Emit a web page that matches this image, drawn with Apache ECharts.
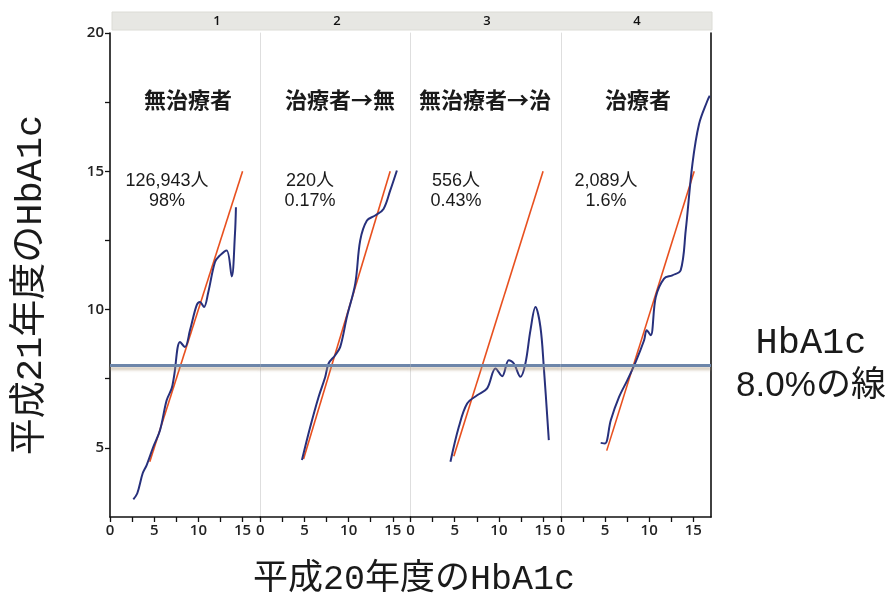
<!DOCTYPE html>
<html>
<head>
<meta charset="utf-8">
<script src="https://cdn.jsdelivr.net/npm/echarts@6/dist/echarts.min.js"></script>
<style>
  html, body { margin: 0; padding: 0; background: #ffffff; }
  #chart { width: 892px; height: 599px; }
</style>
</head>
<body>
<div id="chart"></div>
<script>
// ---- data ----
const panelNumbers = ['1', '2', '3', '4'];
const panelTitles = ['無治療者', '治療者→無', '無治療者→治', '治療者'];
const headcounts = ['126,943人', '220人', '556人', '2,089人'];
const shares = ['98%', '0.17%', '0.43%', '1.6%'];
const xTitle = '平成20年度のHbA1c';
const yTitle = '平成21年度のHbA1c';
const refLabelTop = 'HbA1c';
const refLabelBottom = '8.0%の線';
const threshold = 8.0;            // HbA1c 8.0% reference line
const xRange = [0, 17];
const yRange = [2.5, 20];
const tickStep = 2.5;
const labelStep = 5;

// observed curve per group: [HbA1c year 20, HbA1c year 21]
const curveUntreated = [
  [2.64, 3.14], [3.09, 3.36], [3.7, 4.08], [4.15, 4.38], [4.9, 5.04], [5.66, 5.64],
  [6.41, 6.72], [6.98, 7.15], [7.24, 7.57], [7.92, 8.83], [8.48, 8.65], [9.05, 9.25],
  [9.8, 10.15], [10.18, 10.27], [10.63, 10.09], [11.12, 10.63], [11.88, 11.72],
  [12.44, 11.96], [13.2, 12.14], [13.77, 11.2], [14.14, 12.74], [14.25, 13.7]
];
const curveStopped = [
  [4.72, 4.56], [5.66, 5.76], [6.6, 6.84], [7.35, 7.56], [7.73, 8.05], [8.48, 8.35],
  [9.05, 8.65], [9.8, 9.73], [10.75, 10.94], [11.31, 12.5], [12.07, 13.22],
  [13.0, 13.4], [13.95, 13.64], [14.7, 14.3], [15.46, 15.03]
];
const curveStarted = [
  [4.52, 4.5], [5.47, 5.76], [6.41, 6.6], [7.54, 6.9], [8.67, 7.15], [9.62, 7.87],
  [10.37, 7.59], [11.12, 8.17], [11.69, 8.05], [12.44, 7.57], [13.0, 8.05],
  [13.57, 9.25], [14.14, 10.09], [14.7, 9.37], [15.08, 7.93], [15.65, 5.28]
];
const curveTreated = [
  [4.52, 5.18], [5.01, 5.16], [5.66, 6.0], [6.6, 6.84], [7.54, 7.45], [8.48, 8.11],
  [9.43, 8.89], [9.73, 9.25], [10.18, 9.07], [10.75, 10.45], [11.69, 11.12],
  [12.63, 11.24], [13.57, 11.42], [14.14, 12.86], [14.9, 15.27], [15.65, 16.71],
  [16.59, 17.55], [16.86, 17.73]
];
// fitted straight lines
const fitUntreated = [[4.5, 4.5], [15.0, 15.0]];
const fitStopped = [[4.9, 4.6], [14.7, 15.0]];
const fitStarted = [[4.9, 4.7], [15.0, 15.0]];
const fitTreated = [[5.2, 4.9], [15.1, 15.0]];

const curves = [curveUntreated, curveStopped, curveStarted, curveTreated];
const fits = [fitUntreated, fitStopped, fitStarted, fitTreated];

// ---- layout ----
const plotLeft = 110, plotTop = 33, plotHeight = 484, panelWidth = 150.25;
const numberX = [217, 337, 487, 637];
const titleX = [188, 340, 485, 638];
const countX = [167, 310, 456, 606];

const labelFmt = v => (Math.abs(v % labelStep) < 1e-9 ? String(v) : '');
const tickFont = { fontFamily: '"Open Sans", "DejaVu Sans", sans-serif', fontSize: 15, fontWeight: 600, color: '#222' };

const grids = [], xAxes = [], yAxes = [], series = [];
curves.forEach((curve, i) => {
  grids.push({ left: plotLeft + i * panelWidth, top: plotTop, width: panelWidth, height: plotHeight });
  xAxes.push({
    type: 'value', gridIndex: i, min: xRange[0], max: xRange[1], interval: tickStep,
    axisLine: { show: true, lineStyle: { color: '#111', width: 1.6 } },
    axisTick: { show: true, length: 5, lineStyle: { color: '#111', width: 1.3 } },
    axisLabel: Object.assign({ formatter: labelFmt, margin: 6, showMaxLabel: false }, tickFont),
    splitLine: { show: false }
  });
  yAxes.push({
    type: 'value', gridIndex: i, min: yRange[0], max: yRange[1], interval: tickStep,
    axisLine: { show: true, lineStyle: { color: i === 0 ? '#111' : '#dedede', width: i === 0 ? 1.6 : 1 } },
    axisTick: { show: i === 0, length: 5, lineStyle: { color: '#111', width: 1.3 } },
    axisLabel: Object.assign({ show: i === 0, formatter: labelFmt, margin: 6, showMinLabel: false }, tickFont),
    splitLine: { show: false }
  });
  series.push({
    type: 'line', xAxisIndex: i, yAxisIndex: i, data: fits[i], symbol: 'none',
    lineStyle: { color: '#e8501f', width: 1.6 }, z: 3, silent: true
  });
  series.push({
    type: 'line', xAxisIndex: i, yAxisIndex: i, data: curve, symbol: 'none', smooth: 0.35,
    lineStyle: { color: '#27307c', width: 2 }, z: 4, silent: true,
    markLine: {
      silent: true, symbol: 'none', label: { show: false },
      lineStyle: { type: 'solid', color: '#6d86aa', width: 3, shadowColor: 'rgba(170,150,120,0.55)', shadowBlur: 3, shadowOffsetY: 3 },
      data: [{ yAxis: threshold }]
    }
  });
});
// right-hand frame line
yAxes.push({
  type: 'value', gridIndex: 3, position: 'right', min: yRange[0], max: yRange[1],
  axisLine: { show: true, lineStyle: { color: '#111', width: 1.6 } },
  axisTick: { show: false }, axisLabel: { show: false }, splitLine: { show: false }
});

const cjkSans = '"Noto Sans CJK JP", sans-serif';
const bodySans = '"Liberation Sans", "Noto Sans CJK JP", sans-serif';
const titleFont = '"Liberation Mono", "Noto Sans CJK JP", monospace';

const graphic = [
  { type: 'rect', shape: { x: 112, y: 12, width: 600, height: 18 }, style: { fill: '#e7e7e3', stroke: '#dcdcd6' }, z: 0 }
];
panelNumbers.forEach((n, i) => {
  graphic.push({ type: 'text', x: numberX[i], y: 21, z: 10,
    style: { text: n, fill: '#111', font: '600 13px "Open Sans", sans-serif', align: 'center', verticalAlign: 'middle' } });
  graphic.push({ type: 'text', x: titleX[i], y: 100, z: 10,
    style: { text: panelTitles[i], fill: '#1a1a1a', font: 'bold 22px ' + cjkSans, align: 'center', verticalAlign: 'middle' } });
  graphic.push({ type: 'text', x: countX[i], y: 181, z: 10,
    style: { text: headcounts[i], fill: '#1a1a1a', font: '18px ' + bodySans, align: 'center', verticalAlign: 'middle' } });
  graphic.push({ type: 'text', x: countX[i], y: 201, z: 10,
    style: { text: shares[i], fill: '#1a1a1a', font: '18px ' + bodySans, align: 'center', verticalAlign: 'middle' } });
});
graphic.push({ type: 'text', x: 414, y: 580, z: 10,
  style: { text: xTitle, fill: '#1a1a1a', font: '35px ' + titleFont, align: 'center', verticalAlign: 'middle' } });
graphic.push({ type: 'text', x: 31, y: 285, rotation: Math.PI / 2, z: 10,
  style: { text: yTitle, fill: '#1a1a1a', font: '37px ' + titleFont, align: 'center', verticalAlign: 'middle' } });
graphic.push({ type: 'text', x: 811, y: 343, z: 10,
  style: { text: refLabelTop, fill: '#1a1a1a', font: '37px ' + titleFont, align: 'center', verticalAlign: 'middle' } });
graphic.push({ type: 'text', x: 811, y: 386, z: 10,
  style: { text: refLabelBottom, fill: '#1a1a1a', font: '35px ' + bodySans, align: 'center', verticalAlign: 'middle' } });

const chart = echarts.init(document.getElementById('chart'), null, { renderer: 'canvas' });
chart.setOption({
  animation: false,
  backgroundColor: '#ffffff',
  grid: grids,
  xAxis: xAxes,
  yAxis: yAxes,
  series: series,
  graphic: graphic
});
</script>
</body>
</html>
